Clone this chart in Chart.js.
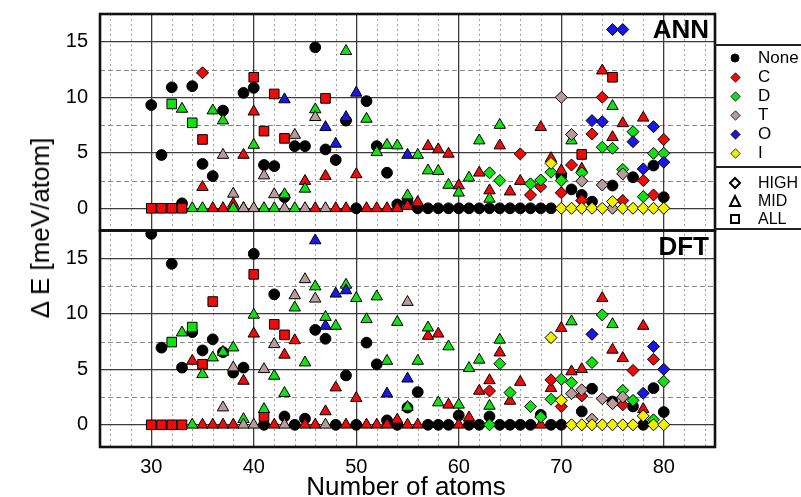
<!DOCTYPE html>
<html><head><meta charset="utf-8">
<script src="https://cdn.jsdelivr.net/npm/chart.js@4/dist/chart.umd.min.js"></script>
<style>
html,body{margin:0;padding:0;background:#fff;}
#wrap{position:relative;width:801px;height:497px;overflow:hidden;font-family:"Liberation Sans",Arial,Helvetica,sans-serif;background:#fff;}
canvas{position:absolute;left:0;top:0;}
.t{position:absolute;white-space:nowrap;color:#000;line-height:1;}
.lg{position:absolute;left:715px;width:120px;border-top:2px solid #222;border-bottom:2px solid #222;}
</style></head><body>
<div id="wrap">
<canvas id="c" width="801" height="497"></canvas>
<div class="t" style="left:40px;top:228px;font-size:26px;transform:translate(-50%,-50%) rotate(-90deg);">Δ E [meV/atom]</div>
<div class="t" style="left:406px;top:486px;font-size:26px;transform:translate(-50%,-50%);">Number of atoms</div>
<div class="t" style="right:92px;top:16px;font-size:26px;font-weight:bold;">ANN</div>
<div class="t" style="right:92px;top:233px;font-size:26px;font-weight:bold;">DFT</div>
<div class="lg" style="top:44px;height:120px;"></div>
<div class="lg" style="top:166px;height:60px;"></div>
<div id="legend"></div>
</div>
<script>
// ---------- tick values ----------
const xMajorTicks = [30, 40, 50, 60, 70, 80];
const xMinorTicks = [26, 28, 32, 34, 36, 38, 42, 44, 46, 48, 52, 54, 56, 58, 62, 64, 66, 68, 72, 74, 76, 78, 82, 84];
const yMajorTicks = [0, 5, 10, 15];
const yMinorTicks = [2.5, 7.5, 12.5];

// ---------- legend labels ----------
const legendElements = ['None', 'C', 'D', 'T', 'O', 'I'];
const legendSets = ['HIGH', 'MID', 'ALL'];

// ---------- ANN panel: [number of atoms, ΔE] ----------
const annNone = [[30,9.3],[31,4.8],[32,10.9],[33,0.45],[34,11.0],[35,4.0],[36,2.9],[37,8.8],[39,10.4],[40,10.85],[41,3.9],[42,3.8],[43,1.0],[44,5.6],[45,5.6],[46,14.5],[47,5.3],[48,4.35],[49,7.9],[50,0],[51,9.65],[52,5.6],[53,3.2],[54,0.35],[55,0.65],[56,0],[57,0],[58,0],[59,0],[60,0],[61,0],[62,0],[63,0],[64,0],[65,0],[66,0],[67,0],[68,0],[69,0],[70,2.9],[71,1.7],[72,1.2],[73,0.6],[75,2.05],[77,2.8],[79,3.85],[80,1.0]];
const annCHigh = [[35,12.2],[66,4.9],[67,1.2],[68,1.95],[70,1.4],[71,3.9],[72,0.7],[73,6.7],[74,10.0],[76,0.7],[78,2.5],[79,1.2],[80,6.2]];
const annCMid = [[35,1.9],[36,0],[37,0],[38,0.4],[39,4.8],[40,8.7],[45,2.45],[46,0],[47,2.9],[48,0],[49,0],[50,3.05],[51,0],[52,0],[53,0],[54,0],[55,0.2],[56,0.55],[57,5.6],[58,5.3],[59,4.9],[60,2.05],[62,3.2],[63,1.6],[64,5.65],[65,1.5],[66,2.45],[68,7.3],[69,4.5],[70,3.4],[72,3.55],[74,12.4],[75,6.4],[76,7.65],[78,8.15]];
const annCAll = [[30,0],[31,0],[32,0],[33,0],[35,6.2],[40,11.8],[41,6.95],[42,10.3],[43,6.3],[47,9.9],[72,4.85],[75,11.8]];
const annDHigh = [[63,3.2],[64,2.5],[67,2.2],[68,2.55],[69,3.25],[70,2.5],[72,3.2],[74,5.5],[75,5.4],[76,3.5],[77,6.9],[78,1.05],[79,4.95],[80,4.95]];
const annDMid = [[33,8.95],[34,0],[35,0],[36,8.8],[37,7.9],[38,0],[39,0],[40,5.7],[41,0],[42,0],[43,1.25],[44,0],[45,1.75],[46,8.9],[49,14.15],[51,8.05],[52,5.05],[53,5.7],[54,5.65],[55,1.15],[56,4.8],[57,3.4],[58,3.35],[59,2.1],[60,1.4],[61,2.75],[62,6.1],[63,0.85],[64,7.5],[71,6.1],[75,9.2]];
const annDAll = [[32,9.4],[34,7.7]];
const annTHigh = [[70,10.0],[71,6.65],[72,2.45],[74,2.1],[75,0],[76,3.1]];
const annTMid = [[37,4.8],[38,1.3],[39,0],[40,0],[41,2.95],[42,1.25],[43,0],[44,6.6],[45,0],[46,8.2],[47,0]];
const annOHigh = [[73,7.9],[74,7.8],[75,16.1],[76,16.1],[77,6.0],[78,3.55],[79,7.35],[80,4.15]];
const annOMid = [[43,9.8],[47,7.3],[48,5.8],[49,8.2],[50,10.4],[55,4.8]];
const annIHigh = [[69,4.05],[70,0],[71,0],[72,0],[73,0],[74,0],[75,0.6],[76,0],[77,0],[78,0],[79,0],[80,0]];

// ---------- DFT panel ----------
const dftNone = [[30,17.2],[31,6.95],[32,14.5],[33,5.15],[34,8.35],[35,6.7],[36,7.7],[37,6.55],[38,4.7],[39,5.15],[40,15.4],[41,0],[42,11.75],[43,0.75],[44,0],[45,0.55],[46,8.55],[47,7.75],[48,0],[49,4.45],[50,0],[51,7.4],[52,5.45],[53,0.4],[54,0],[55,1.55],[56,2.95],[57,0],[58,0],[59,0],[60,0.85],[61,0],[62,0],[63,0.75],[64,0],[65,0],[66,0],[67,0],[68,0.9],[69,0],[70,0],[72,1.2],[73,3.25],[75,2.1],[77,1.65],[78,0],[79,3.3],[80,1.15]];
const dftCHigh = [[63,3.05],[69,4.05],[70,1.65],[72,2.6],[76,1.8],[77,4.9],[79,5.9]];
const dftCMid = [[34,5.75],[35,0],[36,0],[37,0],[38,0],[39,3.95],[40,8.2],[42,0],[43,6.3],[44,7.6],[45,0],[46,0],[47,1.2],[48,3.35],[49,0],[50,2.4],[51,0],[52,0],[53,0],[54,0.45],[55,0],[56,0],[57,8.0],[58,8.2],[59,1.8],[60,0],[61,0.65],[62,3.05],[63,4.0],[64,6.5],[65,2.15],[66,3.85],[68,0],[69,3.3],[70,8.7],[71,4.8],[72,5.0],[74,11.4],[75,6.75],[76,6.0],[78,8.9],[78,1.4]];
const dftCAll = [[30,0],[31,0],[32,0],[33,0],[35,5.45],[36,11.1],[40,13.55],[41,0.75],[42,9.05],[43,8.1]];
const dftDHigh = [[63,0],[64,5.5],[65,2.9],[67,1.65],[68,0.7],[69,2.3],[70,4.1],[71,3.8],[73,5.6],[74,9.9],[76,3.1],[77,2.2],[79,0.45],[80,3.9]];
const dftDMid = [[33,8.3],[34,0],[35,4.55],[36,6.05],[37,6.55],[38,6.95],[39,0.5],[40,9.9],[41,1.4],[42,4.4],[43,2.85],[44,10.55],[45,5.6],[46,12.45],[47,9.7],[48,8.9],[49,12.6],[50,11.4],[51,9.5],[52,11.55],[53,5.75],[54,9.25],[55,1.6],[56,5.75],[57,8.75],[58,2.0],[59,7.05],[60,1.8],[61,5.1],[62,5.85],[63,1.7],[64,7.65],[71,9.3],[75,9.05]];
const dftDAll = [[32,7.45],[34,8.8]];
const dftTHigh = [[71,2.8],[72,3.15],[73,0.5],[74,2.35],[75,1.9],[76,2.5]];
const dftTMid = [[37,1.55],[38,5.15],[39,0],[40,0],[41,5.0],[42,7.25],[43,0],[44,11.65],[45,13.1],[46,11.35],[47,0],[55,11.05]];
const dftOHigh = [[73,8.15],[78,2.85],[79,7.05],[80,5.0]];
const dftOMid = [[46,16.6],[47,8.9],[48,11.8],[49,12.1],[53,2.8],[55,4.15]];
const dftIHigh = [[69,7.85],[70,2.2],[71,0],[72,0],[73,0],[74,0],[75,0],[76,0],[77,0],[78,0.8],[79,0],[80,0]];

// ---------- styles ----------
const COL = {None:'#000000', C:'#ee0b0b', D:'#12e012', T:'#b89c9c', O:'#1818e0', I:'#f2f200'};
const SHAPE = {None:['circle',5.4], HIGH:['rectRot',6.0], MID:['triangle',6.6], ALL:['rect',6.8]};

function ds(data, axis, el, set) {
  const [style, r] = SHAPE[set];
  return {
    data: data.map(p => ({x: p[0], y: p[1]})),
    yAxisID: axis, pointStyle: style, pointRadius: r, pointHoverRadius: r,
    backgroundColor: COL[el], borderColor: '#000', pointBorderWidth: 1, borderWidth: 1,
    showLine: false
  };
}

const panels = [
  ['yA', {None:annNone, CHIGH:annCHigh, CMID:annCMid, CALL:annCAll, DHIGH:annDHigh, DMID:annDMid, DALL:annDAll, THIGH:annTHigh, TMID:annTMid, OHIGH:annOHigh, OMID:annOMid, IHIGH:annIHigh}],
  ['yD', {None:dftNone, CHIGH:dftCHigh, CMID:dftCMid, CALL:dftCAll, DHIGH:dftDHigh, DMID:dftDMid, DALL:dftDAll, THIGH:dftTHigh, TMID:dftTMid, OHIGH:dftOHigh, OMID:dftOMid, IHIGH:dftIHigh}]
];
// first dataset is drawn on top
const drawOrder = ['IHIGH','OHIGH','OMID','THIGH','TMID','DHIGH','DMID','DALL','CHIGH','CMID','CALL','None'];
const datasets = [];
for (const [axis, sets] of panels) {
  for (const key of drawOrder) {
    const el = key === 'None' ? 'None' : key[0];
    const set = key === 'None' ? 'None' : key.slice(1);
    datasets.push(ds(sets[key], axis, el, set));
  }
}

const plotFont = {family: '"Liberation Sans", Arial, sans-serif', size: 20};
function zeroPad(s) { s.paddingTop = 0; s.paddingBottom = 0; s.paddingLeft = 0; s.paddingRight = 0; }
function yScale() {
  return {
    type: 'linear', position: 'left', stack: 'panels', stackWeight: 1,
    min: -2, max: 17.5,
    afterBuildTicks: s => { s.ticks = yMajorTicks.map(v => ({value: v})); },
    ticks: {padding: 12, font: plotFont, color: '#000'},
    grid: {drawTicks: false, color: '#3c3c3c', lineWidth: 1.3},
    border: {display: false},
    afterFit: s => { s.width = 100; zeroPad(s); }
  };
}

const framePlugin = {
  id: 'frames',
  beforeDraw(chart) {
    const {ctx, chartArea: a, scales} = chart;
    ctx.save();
    ctx.fillStyle = '#fff';
    ctx.fillRect(0, 0, chart.width, chart.height);
    ctx.strokeStyle = '#a0a0a0'; ctx.lineWidth = 1; ctx.setLineDash([2, 3]);
    for (const v of xMinorTicks) {
      const px = Math.round(scales.x.getPixelForValue(v)) + 0.5;
      ctx.beginPath(); ctx.moveTo(px, a.top); ctx.lineTo(px, a.bottom); ctx.stroke();
    }
    ctx.strokeStyle = '#8a8a8a'; ctx.setLineDash([5, 3]);
    for (const id of ['yA', 'yD']) {
      const s = scales[id];
      for (const v of yMinorTicks) {
        const py = Math.round(s.getPixelForValue(v)) + 0.5;
        ctx.beginPath(); ctx.moveTo(a.left, py); ctx.lineTo(a.right, py); ctx.stroke();
      }
    }
    ctx.restore();
  },
  afterDraw(chart) {
    const {ctx, chartArea: a, scales} = chart;
    ctx.save();
    ctx.strokeStyle = '#111'; ctx.lineWidth = 2.6;
    for (const id of ['yA', 'yD']) {
      const s = scales[id];
      ctx.strokeRect(a.left, s.top, a.right - a.left, s.bottom - s.top);
    }
    ctx.restore();
  }
};

new Chart(document.getElementById('c'), {
  type: 'scatter',
  data: {datasets},
  options: {
    responsive: false, animation: false, devicePixelRatio: 1,
    layout: {padding: {left: 0, top: 14, right: 86, bottom: 0}},
    plugins: {legend: {display: false}, tooltip: {enabled: false}},
    scales: {
      x: {
        type: 'linear', position: 'bottom', min: 25, max: 85,
        afterBuildTicks: s => { s.ticks = xMajorTicks.map(v => ({value: v})); },
        ticks: {padding: 8, font: plotFont, color: '#000', maxRotation: 0},
        grid: {drawTicks: false, color: '#3c3c3c', lineWidth: 1.3},
        border: {display: false},
        afterFit: s => { s.height = 50; zeroPad(s); }
      },
      yD: yScale(),
      yA: yScale()
    }
  },
  plugins: [framePlugin]
});

// ---------- legend (HTML) ----------
function marker(shape, fill, stroke, sw, size) {
  const h = size / 2;
  let inner;
  if (shape === 'circle') inner = `<circle cx="${h}" cy="${h}" r="${h - sw}" fill="${fill}" stroke="${stroke}" stroke-width="${sw}"/>`;
  else if (shape === 'diamond') inner = `<polygon points="${h},${sw} ${size - sw},${h} ${h},${size - sw} ${sw},${h}" fill="${fill}" stroke="${stroke}" stroke-width="${sw}"/>`;
  else if (shape === 'triangle') inner = `<polygon points="${h},${sw} ${size - sw},${size - sw} ${sw},${size - sw}" fill="${fill}" stroke="${stroke}" stroke-width="${sw}"/>`;
  else inner = `<rect x="${sw + 1}" y="${sw + 1}" width="${size - 2 * sw - 2}" height="${size - 2 * sw - 2}" fill="${fill}" stroke="${stroke}" stroke-width="${sw}"/>`;
  return `<svg width="${size}" height="${size}" style="display:block">${inner}</svg>`;
}
const leg = document.getElementById('legend');
let html = '';
legendElements.forEach((name, i) => {
  const cy = 58 + i * 19;
  const m = name === 'None' ? marker('circle', '#000', '#000', 1, 10) : marker('diamond', COL[name], '#000', 0.8, 11);
  html += `<div style="position:absolute;left:${735 - 5.5}px;top:${cy - 5.5}px">${m}</div>`;
  html += `<div class="t" style="left:758px;top:${cy - 9}px;font-size:17px;">${name}</div>`;
});
const setShapes = {HIGH: 'diamond', MID: 'triangle', ALL: 'square'};
legendSets.forEach((name, i) => {
  const cy = 182.5 + i * 18;
  html += `<div style="position:absolute;left:${735 - 7}px;top:${cy - 7}px">${marker(setShapes[name], '#fff', '#000', 2, 14)}</div>`;
  html += `<div class="t" style="left:758px;top:${cy - 8}px;font-size:16px;">${name}</div>`;
});
leg.innerHTML = html;
</script>
</body></html>
